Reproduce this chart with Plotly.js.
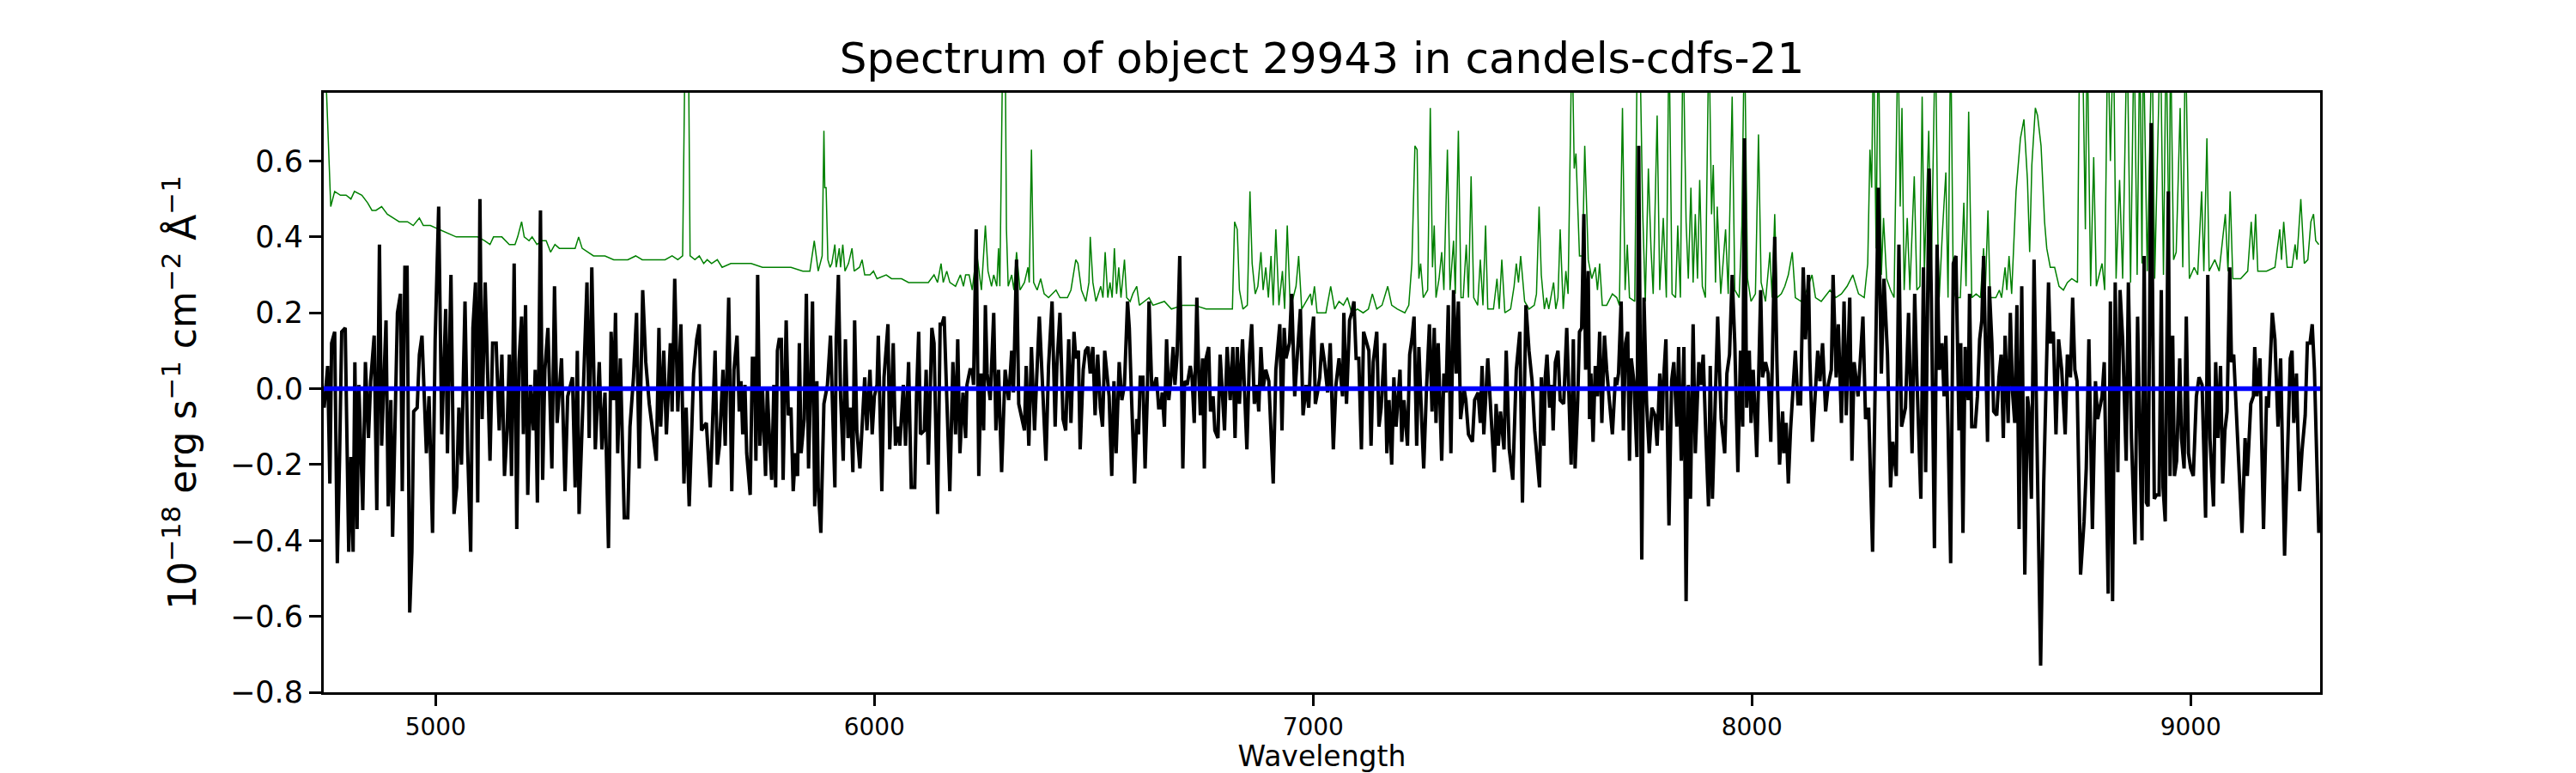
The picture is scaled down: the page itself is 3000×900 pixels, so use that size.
<!DOCTYPE html>
<html>
<head>
<meta charset="utf-8">
<script src="https://cdn.plot.ly/plotly-3.0.1.min.js"></script>
<style>body{margin:0;background:#fff}</style>
</head>
<body>
<div id="chart" style="width:3000px;height:900px"></div>
<script>
// [wavelength (A), flux]
var objectFlux = [
[4746,-0.05],[4754,0.06],[4759,-0.25],[4763,0.12],[4770,0.15],[4776,-0.46],[4781,-0.19],[4786,0.15],[4794,0.16],[4798,-0.16],
[4802,-0.43],[4807,-0.18],[4812,-0.43],[4816,0.07],[4821,-0.37],[4825,0.01],[4834,-0.32],[4840,0.07],[4847,-0.13],[4852,0.02],
[4860,0.14],[4866,-0.32],[4872,0.38],[4877,-0.15],[4887,0.18],[4892,-0.31],[4898,-0.03],[4902,-0.39],[4909,-0.03],[4913,0.20],
[4920,0.25],[4924,-0.27],[4930,0.32],[4935,0.32],[4941,-0.59],[4946,-0.43],[4950,-0.06],[4958,-0.05],[4963,0.09],[4969,0.14],
[4979,-0.17],[4985,-0.02],[4993,-0.38],[4999,0.13],[5007,0.48],[5014,-0.12],[5023,0.21],[5027,-0.17],[5035,0.30],[5042,-0.33],
[5048,-0.26],[5053,-0.05],[5059,-0.20],[5067,0.23],[5073,-0.16],[5080,-0.43],[5085,0.16],[5091,0.28],[5096,-0.30],[5101,0.50],
[5106,-0.08],[5113,0.28],[5124,-0.19],[5130,0.12],[5138,0.12],[5145,-0.11],[5151,0.09],[5157,-0.23],[5163,-0.11],[5168,0.09],
[5173,-0.23],[5179,0.33],[5185,-0.37],[5190,0.07],[5196,0.19],[5200,-0.12],[5205,0.22],[5210,-0.28],[5216,0.01],[5223,-0.11],
[5227,0.05],[5232,-0.30],[5239,0.47],[5244,-0.24],[5249,0.05],[5256,0.16],[5265,-0.21],[5271,0.27],[5277,-0.09],[5287,0.08],
[5295,-0.27],[5301,-0.02],[5312,0.03],[5318,-0.26],[5323,0.10],[5327,-0.33],[5333,-0.13],[5339,0.07],[5345,0.28],[5350,-0.13],
[5356,0.32],[5364,-0.16],[5373,0.07],[5379,-0.16],[5386,-0.01],[5394,-0.42],[5400,0.15],[5406,-0.03],[5410,0.20],[5415,-0.17],
[5421,0.08],[5430,-0.34],[5438,-0.34],[5443,-0.10],[5451,0.03],[5458,0.20],[5464,-0.21],[5472,0.26],[5479,0.07],[5487,-0.04],
[5494,-0.11],[5503,-0.19],[5509,0.16],[5513,-0.10],[5520,0.10],[5526,-0.12],[5535,0.12],[5539,-0.06],[5545,0.29],[5552,-0.06],
[5559,0.17],[5566,-0.25],[5571,-0.05],[5578,-0.31],[5582,-0.17],[5588,0.04],[5595,0.13],[5601,0.17],[5606,-0.11],[5617,-0.09],
[5626,-0.26],[5637,0.10],[5642,-0.20],[5647,-0.15],[5655,0.05],[5660,-0.15],[5668,0.24],[5675,-0.27],
[5680,0.05],[5687,0.14],[5692,-0.06],[5696,0.02],[5700,-0.12],[5705,0.01],[5709,-0.17],[5717,-0.28],[5722,0.08],[5727,0.08],
[5730,-0.19],[5734,0.30],[5739,-0.15],[5745,0.00],[5752,-0.23],[5756,0.00],[5762,-0.16],[5766,-0.24],[5771,0.01],[5775,-0.26],
[5779,0.10],[5783,0.13],[5788,0.13],[5792,-0.24],[5799,0.18],[5804,-0.07],[5810,-0.05],[5815,-0.27],[5820,-0.17],[5825,-0.23],
[5829,0.12],[5833,-0.17],[5840,-0.08],[5845,0.25],[5850,-0.21],[5855,0.01],[5859,0.23],[5864,-0.31],[5869,0.02],[5872,-0.26],
[5878,-0.38],[5885,-0.04],[5893,0.01],[5900,0.14],[5910,-0.26],[5913,0.13],[5918,0.30],[5923,-0.02],[5929,-0.19],[5934,0.13],
[5940,-0.13],[5946,-0.05],[5951,-0.22],[5955,0.18],[5960,-0.11],[5967,-0.21],[5973,-0.07],[5978,0.03],[5983,-0.11],[5990,0.05],
[5995,-0.12],[6000,-0.02],[6006,0.01],[6009,0.14],[6017,-0.27],[6022,0.03],[6031,0.17],[6035,-0.16],[6043,0.12],[6048,-0.15],
[6054,-0.10],[6058,-0.15],[6066,0.01],[6071,-0.15],[6078,0.07],[6084,-0.26],[6092,-0.26],[6096,-0.02],[6101,0.15],[6105,-0.12],
[6114,-0.11],[6118,0.05],[6123,-0.20],[6131,0.16],[6136,0.12],[6144,-0.33],[6150,0.17],[6154,0.17],[6159,0.19],[6166,-0.10],
[6172,-0.27],[6179,0.07],[6185,-0.12],[6190,0.13],[6195,-0.17],[6202,-0.01],[6208,-0.13],[6211,0.01],[6218,0.05],[6223,0.05],
[6226,0.01],[6232,0.42],[6238,-0.23],[6243,0.04],[6249,-0.11],[6253,0.22],[6257,0.04],[6264,-0.03],[6272,0.20],[6277,-0.11],
[6283,0.05],[6290,-0.22],[6298,0.05],[6306,-0.03],[6313,0.10],[6317,-0.01],[6324,0.34],[6329,-0.04],[6333,-0.06],[6342,-0.11],
[6346,0.06],[6352,-0.15],[6358,0.11],[6365,-0.11],[6370,0.03],[6376,0.19],[6384,-0.01],[6391,-0.19],[6397,0.06],[6405,0.23],
[6412,-0.10],[6416,0.06],[6423,0.20],[6430,-0.08],[6436,-0.11],[6443,0.13],[6448,-0.09],[6455,0.15],[6459,0.08],[6465,0.10],
[6469,-0.16],[6476,0.05],[6481,0.10],[6487,0.11],[6492,0.04],[6498,0.11],[6503,-0.07],[6509,0.09],[6515,-0.05],[6520,-0.10],
[6525,0.10],[6530,0.03],[6535,-0.02],[6541,-0.23],[6546,0.02],[6551,-0.17],[6558,0.07],[6564,-0.03],[6570,0.01],[6577,0.23],
[6581,0.16],[6586,-0.02],[6593,-0.25],
[6598,-0.08],[6602,-0.12],[6606,0.03],[6612,0.03],[6617,-0.21],[6622,-0.02],[6626,0.23],[6632,0.01],[6638,0.01],[6643,0.03],
[6648,-0.05],[6653,-0.05],[6656,-0.01],[6661,-0.10],[6666,0.13],[6671,-0.03],[6676,0.03],[6681,0.11],[6685,0.01],[6690,0.09],
[6696,0.35],[6700,0.01],[6703,-0.21],[6707,0.02],[6713,0.01],[6720,0.06],[6724,0.03],[6729,-0.09],[6735,0.24],[6739,0.05],
[6743,-0.07],[6748,0.08],[6752,-0.21],[6756,0.08],[6762,0.11],[6766,-0.06],[6772,-0.02],[6776,-0.11],[6783,-0.13],[6788,0.09],
[6798,-0.11],[6804,0.11],[6811,-0.03],[6817,0.11],[6822,-0.13],[6827,0.11],[6832,-0.04],[6839,0.13],[6844,-0.04],[6849,-0.16],
[6855,0.09],[6860,0.17],[6866,-0.04],[6872,0.01],[6876,-0.06],[6881,0.11],[6886,0.00],[6892,0.05],[6899,0.02],[6909,-0.25],
[6915,0.05],[6924,0.17],[6929,-0.11],[6934,0.16],[6938,0.08],[6946,0.12],[6951,0.25],[6958,-0.02],[6964,0.09],[6971,0.21],
[6977,-0.07],[6984,0.01],[6990,-0.05],[6996,0.13],[7001,0.19],[7005,-0.04],[7010,-0.01],[7015,0.03],[7020,0.12],[7026,0.07],
[7033,-0.01],[7039,0.12],[7046,-0.16],[7052,0.01],[7059,0.08],[7067,-0.02],[7070,0.20],[7076,-0.04],[7083,0.18],[7088,0.20],
[7093,0.23],[7098,0.08],[7104,0.08],[7110,-0.16],[7115,0.15],[7121,0.12],[7127,0.10],[7132,-0.15],[7137,0.07],[7145,0.15],
[7150,-0.10],[7155,-0.05],[7163,0.12],[7168,-0.17],[7173,-0.03],[7179,-0.20],[7184,0.03],[7189,-0.10],[7198,0.05],[7202,-0.14],
[7207,-0.03],[7215,-0.15],[7220,0.09],[7225,0.13],[7230,0.19],[7236,-0.15],[7241,0.11],[7248,-0.10],[7252,-0.21],[7258,-0.01],
[7265,0.17],[7271,-0.06],[7276,0.16],[7280,-0.09],[7285,0.12],[7293,-0.19],[7298,0.04],[7303,-0.01],[7308,0.22],[7314,-0.17],
[7320,0.26],[7326,0.04],[7331,0.23],[7336,-0.08],[7344,0.00],[7348,-0.03],[7354,-0.12],[7363,-0.14],[7368,-0.03],[7376,-0.01],
[7381,-0.09],[7385,0.06],[7389,-0.12],[7398,0.08],[7404,-0.03],[7413,-0.22],[7417,-0.04],[7422,-0.15],[7427,-0.06],[7435,-0.16],
[7440,0.10],[7447,-0.16],[7455,-0.24],[7463,0.05],[7471,0.15],[7477,-0.30],[7485,0.22],[7492,0.10],[7499,0.02],[7505,-0.11],
[7516,-0.26],[7520,0.03],[7526,-0.15],[7529,0.03],[7533,0.09],[7539,-0.05],[7544,0.01],[7547,-0.11],[7552,0.07],[7558,0.10],
[7563,-0.03],[7571,-0.04],[7578,0.16],[7582,0.01],[7588,-0.20],[7593,0.13],[7597,-0.21],[7603,-0.03],[7607,0.15],[7612,0.16],
[7617,0.46],[7621,0.05],[7627,0.31],[7630,-0.08],[7633,0.04],[7638,-0.14],[7643,0.06],[7648,-0.02],[7653,0.15],[7658,-0.09],
[7664,0.14],[7669,0.05],[7676,-0.05],[7682,-0.12],[7689,0.03],[7692,0.01],[7696,0.04],[7702,0.23],[7707,-0.11],[7712,0.12],
[7717,0.15],[7721,-0.19],[7725,0.08],[7731,0.02],[7738,-0.18],[7742,0.64],[7749,-0.45],[7754,0.24],[7760,-0.04],[7766,-0.17],
[7772,-0.05],[7779,-0.07],[7784,-0.15],[7790,0.04],[7795,-0.11],[7798,0.01],[7804,0.13],[7811,-0.36],[7817,0.02],[7822,0.07],
[7829,-0.10],[7833,0.11],[7839,-0.19],[7845,0.11],[7850,-0.56],[7855,0.01],[7860,-0.29],[7866,0.17],[7871,-0.17],[7879,0.07],
[7884,0.01],[7889,0.09],[7894,-0.09],[7901,-0.31],[7905,0.06],[7910,-0.29],[7922,0.19],[7930,-0.08],[7938,-0.17],[7943,0.04],
[7949,0.09],[7955,0.30],[7961,0.12],[7968,-0.22],[7974,0.10],[7979,-0.10],[7983,0.66],[7988,-0.05],[7994,0.10],[7998,-0.09],
[8003,0.05],[8011,-0.18],[8020,0.26],[8024,0.03],[8031,0.07],[8037,0.04],[8043,-0.14],[8047,0.13],[8052,0.40],[8057,0.07],
[8063,-0.20],[8070,-0.06],[8073,-0.17],[8078,-0.09],[8083,-0.25],[8088,-0.11],[8094,0.01],[8099,0.10],[8105,-0.04],[8111,-0.04],
[8117,0.32],[8122,0.13],[8129,0.30],[8132,0.08],[8138,-0.14],[8145,0.01],[8150,0.10],[8155,0.02],[8161,0.12],[8168,-0.06],
[8174,0.01],[8181,0.05],[8185,0.30],[8192,0.03],[8197,0.17],[8204,-0.09],[8210,0.23],[8215,-0.07],[8223,0.24],[8228,-0.19],
[8233,0.07],[8242,-0.02],[8246,0.05],[8253,0.19],[8259,-0.08],[8266,-0.05],[8275,-0.43],[8282,0.11],[8288,0.53],[8295,0.04],
[8301,0.29],[8309,0.09],[8316,-0.26],[8321,-0.14],[8329,-0.23],[8335,0.38],[8341,-0.10],[8350,-0.05],[8357,0.20],[8365,-0.17],
[8371,0.25],[8376,0.03],[8385,-0.29],[8391,0.32],[8396,-0.22],[8404,0.58],[8409,0.24],[8416,-0.42],[8422,0.38],[8427,0.05],
[8433,0.12],[8438,-0.02],[8442,0.14],[8447,-0.10],[8453,-0.46],[8459,0.33],[8465,0.35],[8472,-0.11],[8476,0.12],[8481,-0.38],
[8486,0.11],[8493,-0.03],[8496,0.25],[8501,-0.10],[8509,-0.10],[8514,-0.02],[8519,0.13],[8524,0.18],[8528,0.35],[8537,-0.14],
[8541,0.27],[8547,0.12],[8551,-0.06],[8558,-0.07],[8563,0.03],[8568,0.09],[8573,-0.13],[8577,0.14],[8584,-0.09],[8589,0.20],
[8594,-0.01],[8599,-0.09],[8604,0.22],[8609,-0.37],[8615,0.27],[8622,-0.49],[8628,-0.02],[8631,-0.05],[8637,-0.29],[8643,0.34],
[8649,-0.04],[8658,-0.73],[8665,-0.25],[8671,0.02],[8676,0.28],[8680,0.12],[8687,0.15],[8693,-0.12],[8699,0.13],[8706,0.05],
[8714,-0.12],[8719,0.09],[8726,0.03],[8731,0.24],[8736,0.05],[8741,0.02],[8749,-0.49],[8757,-0.35],[8762,-0.21],[8768,0.13],
[8776,-0.37],[8783,0.02],[8788,-0.08],[8798,-0.02],[8803,0.07],[8812,-0.54],[8817,0.23],[8822,-0.56],[8828,0.28],[8834,-0.22],
[8839,0.26],[8845,0.13],[8853,-0.19],[8858,0.28],[8865,-0.13],[8873,-0.41],[8879,0.19],[8889,-0.40],[8894,0.35],[8899,-0.30],
[8903,-0.31],[8910,0.70],[8917,-0.29],[8922,-0.28],[8928,-0.28],[8933,0.26],[8937,-0.26],[8942,-0.35],[8949,0.52],[8953,-0.23],
[8959,0.14],[8963,-0.23],[8968,-0.19],[8975,0.08],[8979,-0.13],[8985,-0.21],[8990,0.19],[8995,-0.17],[9000,-0.21],[9006,-0.23],
[9013,-0.02],[9019,0.03],[9026,0.01],[9034,-0.34],[9039,0.30],[9044,-0.13],[9052,-0.31],[9057,0.07],[9062,-0.13],[9068,0.06],
[9073,-0.25],[9078,-0.11],[9083,-0.06],[9089,0.32],[9093,0.07],[9098,0.09],[9107,-0.14],[9117,-0.38],[9124,-0.13],[9129,-0.23],
[9137,-0.04],[9143,-0.02],[9146,0.11],[9151,-0.02],[9158,0.08],[9166,-0.37],[9173,-0.02],[9177,-0.05],[9186,0.20],[9192,0.13],
[9199,-0.10],[9205,0.08],[9214,-0.44],[9221,-0.17],[9227,0.08],[9231,0.10],[9235,-0.09],[9241,0.04],[9248,-0.27],[9254,-0.16],
[9261,-0.07],[9266,0.12],[9272,0.12],[9277,0.17],[9282,0.05],[9287,-0.17],[9292,-0.38]
];

// [wavelength (A), noise] for the green sky / error spectrum
var skyNoise = [
[4746,0.95],[4752,0.75],[4761,0.48],[4770,0.52],[4783,0.51],[4796,0.51],[4807,0.50],[4815,0.52],[4832,0.51],[4845,0.49],
[4855,0.47],[4864,0.47],[4877,0.48],[4890,0.46],[4904,0.45],[4917,0.44],[4936,0.44],[4949,0.43],[4963,0.45],[4972,0.43],
[4988,0.43],[5008,0.42],[5027,0.41],[5047,0.40],[5073,0.40],[5096,0.40],[5112,0.39],[5124,0.38],[5132,0.40],[5151,0.40],
[5168,0.38],[5181,0.38],[5187,0.40],[5196,0.44],[5202,0.40],[5213,0.39],[5220,0.40],[5231,0.38],[5241,0.39],[5252,0.39],
[5262,0.36],[5272,0.38],[5282,0.37],[5301,0.37],[5318,0.37],[5326,0.40],[5334,0.37],[5360,0.35],[5386,0.35],[5406,0.34],
[5438,0.34],[5456,0.35],[5471,0.34],[5497,0.34],[5523,0.34],[5539,0.35],[5552,0.34],[5563,0.35],[5569,0.95],[5576,0.95],
[5580,0.35],[5591,0.34],[5601,0.35],[5611,0.33],[5619,0.34],[5629,0.33],[5642,0.34],[5653,0.32],[5673,0.33],
[5693,0.33],[5719,0.33],[5745,0.32],[5765,0.32],[5784,0.32],[5810,0.32],[5837,0.31],[5853,0.31],[5863,0.39],[5872,0.31],
[5881,0.35],[5885,0.68],[5887,0.53],[5890,0.53],[5894,0.34],[5899,0.32],[5903,0.33],[5910,0.38],[5913,0.32],[5920,0.37],
[5923,0.32],[5928,0.38],[5933,0.31],[5941,0.33],[5949,0.37],[5954,0.31],[5966,0.32],[5972,0.34],[5978,0.30],[5990,0.30],
[5998,0.31],[6006,0.29],[6027,0.30],[6039,0.29],[6062,0.29],[6078,0.28],[6104,0.28],[6123,0.28],[6136,0.30],[6144,0.28],
[6152,0.33],[6157,0.28],[6165,0.31],[6172,0.28],[6185,0.27],[6196,0.30],[6203,0.27],[6208,0.30],[6216,0.30],[6223,0.26],
[6233,0.36],[6244,0.26],[6253,0.43],[6259,0.31],[6267,0.27],[6272,0.30],[6279,0.27],[6283,0.37],[6286,0.27],[6293,0.95],
[6298,0.95],[6301,0.42],[6305,0.27],[6313,0.30],[6318,0.26],[6324,0.36],[6332,0.26],[6342,0.28],[6350,0.32],[6353,0.28],
[6358,0.63],[6363,0.28],[6371,0.26],[6379,0.29],[6387,0.25],[6397,0.24],[6414,0.26],[6423,0.24],[6440,0.24],[6448,0.26],
[6459,0.34],[6464,0.33],[6472,0.26],[6482,0.23],[6489,0.28],[6492,0.40],[6498,0.28],[6505,0.23],[6516,0.27],[6521,0.24],
[6526,0.36],[6532,0.24],[6537,0.28],[6542,0.24],[6547,0.37],[6552,0.25],[6557,0.32],[6562,0.24],[6570,0.34],[6575,0.24],
[6583,0.23],[6589,0.25],[6598,0.27],[6604,0.22],[6615,0.23],[6626,0.24],[6635,0.22],[6661,0.23],[6677,0.21],[6703,0.22],
[6729,0.22],[6756,0.21],[6782,0.21],[6816,0.21],[6821,0.44],[6827,0.42],[6832,0.26],[6840,0.21],[6850,0.22],[6856,0.52],
[6861,0.33],[6868,0.25],[6874,0.27],[6881,0.36],[6886,0.26],[6892,0.32],[6898,0.24],[6904,0.35],[6909,0.22],[6915,0.42],
[6922,0.22],[6930,0.31],[6935,0.21],[6941,0.43],[6948,0.21],[6961,0.27],[6967,0.35],[6974,0.21],[6994,0.25],[6997,0.22],
[7003,0.27],[7009,0.20],[7029,0.20],[7040,0.27],[7049,0.21],[7059,0.23],[7069,0.22],[7078,0.24],[7088,0.20],[7101,0.21],
[7114,0.20],[7126,0.21],[7135,0.25],[7145,0.21],[7157,0.22],[7170,0.27],[7179,0.22],[7192,0.21],[7209,0.20],[7218,0.22],
[7225,0.33],[7232,0.64],[7237,0.63],[7241,0.29],[7245,0.33],[7251,0.24],[7261,0.26],[7267,0.74],[7272,0.32],[7276,0.43],
[7280,0.24],[7287,0.29],[7293,0.36],[7298,0.26],[7306,0.63],[7312,0.26],[7320,0.39],[7324,0.25],[7331,0.68],[7337,0.24],
[7342,0.24],[7349,0.38],[7354,0.24],[7360,0.56],[7366,0.24],[7375,0.22],[7381,0.34],[7387,0.22],[7393,0.43],[7398,0.21],
[7411,0.21],[7419,0.29],[7424,0.21],[7430,0.34],[7437,0.20],[7450,0.21],[7458,0.27],[7463,0.33],[7468,0.28],[7473,0.35],
[7482,0.23],[7492,0.21],[7504,0.22],
[7509,0.25],[7515,0.48],[7520,0.30],[7527,0.21],[7532,0.24],[7537,0.21],[7548,0.28],[7553,0.21],[7558,0.24],[7563,0.42],
[7570,0.21],[7576,0.31],[7581,0.25],[7590,0.95],[7595,0.58],[7599,0.62],[7607,0.35],[7614,0.35],[7619,0.64],[7627,0.34],
[7635,0.29],[7643,0.32],[7648,0.26],[7653,0.33],[7659,0.22],[7669,0.22],[7682,0.25],[7692,0.24],[7698,0.22],[7705,0.74],
[7711,0.26],[7716,0.38],[7721,0.24],[7733,0.23],[7739,0.95],[7744,0.95],[7751,0.47],[7757,0.23],[7764,0.58],[7770,0.37],
[7775,0.25],[7784,0.72],[7790,0.26],[7798,0.45],[7805,0.24],[7811,0.95],[7818,0.25],[7826,0.24],[7831,0.43],[7837,0.24],
[7843,0.95],[7850,0.44],[7855,0.29],[7861,0.53],[7866,0.28],[7871,0.46],[7876,0.29],[7881,0.55],[7887,0.27],[7894,0.24],
[7902,0.95],[7908,0.46],[7912,0.59],[7917,0.28],[7921,0.48],[7929,0.25],[7940,0.42],[7946,0.25],[7955,0.77],[7961,0.26],
[7971,0.24],[7977,0.43],[7983,0.95],[7990,0.29],[7998,0.23],[8008,0.25],[8015,0.67],[8021,0.28],[8031,0.23],[8041,0.36],
[8046,0.24],[8052,0.46],[8057,0.24],[8067,0.25],[8075,0.27],[8083,0.30],[8092,0.36],[8099,0.24],[8112,0.23],[8125,0.26],
[8137,0.30],[8145,0.24],[8158,0.23],[8178,0.26],[8191,0.24],[8204,0.25],[8217,0.27],[8230,0.30],[8243,0.25],[8256,0.24],
[8264,0.33],[8269,0.63],[8273,0.53],[8277,0.95],[8283,0.37],[8288,0.95],[8295,0.30],[8300,0.45],[8307,0.29],[8316,0.26],
[8324,0.24],[8333,0.95],[8338,0.48],[8342,0.74],[8347,0.26],[8354,0.45],[8360,0.26],[8370,0.56],[8376,0.26],[8383,0.27],
[8388,0.77],[8393,0.31],[8403,0.68],[8409,0.31],[8418,0.95],[8424,0.38],
[8427,0.24],[8434,0.41],[8442,0.57],[8447,0.24],[8453,0.95],[8459,0.26],[8465,0.24],[8475,0.24],[8483,0.49],[8488,0.27],
[8494,0.73],[8501,0.24],[8511,0.25],[8521,0.24],[8528,0.37],[8532,0.26],[8538,0.47],[8543,0.24],[8556,0.24],[8564,0.26],
[8569,0.24],[8577,0.32],[8581,0.26],[8586,0.35],[8592,0.25],[8602,0.52],[8612,0.66],[8620,0.71],[8628,0.55],[8633,0.36],
[8638,0.59],[8646,0.74],[8651,0.72],[8659,0.64],[8667,0.44],[8672,0.37],[8680,0.32],[8690,0.32],[8700,0.27],[8710,0.26],
[8719,0.28],[8729,0.29],[8742,0.28],[8747,0.95],[8753,0.95],[8760,0.42],[8764,0.95],[8772,0.27],[8779,0.61],[8785,0.27],
[8798,0.33],[8804,0.26],[8811,0.95],[8817,0.60],[8824,0.95],[8830,0.29],[8838,0.55],[8845,0.29],[8855,0.95],[8863,0.28],
[8871,0.95],[8878,0.30],[8884,0.95],[8889,0.33],[8892,0.95],[8901,0.31],[8912,0.95],[8918,0.29],[8931,0.95],[8938,0.30],
[8944,0.95],[8951,0.33],[8954,0.95],[8961,0.34],[8967,0.36],[8976,0.74],[8982,0.32],[8988,0.95],[8997,0.29],[9008,0.32],
[9016,0.30],[9025,0.52],[9030,0.31],[9037,0.66],[9042,0.31],[9055,0.34],[9065,0.31],[9079,0.46],[9085,0.31],[9090,0.52],
[9096,0.29],[9114,0.29],[9130,0.31],[9138,0.44],[9143,0.34],[9148,0.46],[9153,0.31],[9173,0.31],[9192,0.32],[9203,0.42],
[9207,0.34],[9212,0.44],[9220,0.32],[9231,0.32],[9238,0.38],[9242,0.34],[9251,0.50],[9259,0.33],[9267,0.34],[9274,0.44],
[9280,0.46],[9285,0.39],[9292,0.38]
];

var waveRange = [4745, 9295];
var fluxRange = [-0.8, 0.78];
var xTicks = [5000, 6000, 7000, 8000, 9000];
var yTicks = [-0.8, -0.6, -0.4, -0.2, 0.0, 0.2, 0.4, 0.6];
var yTickText = ["\u22120.8", "\u22120.6", "\u22120.4", "\u22120.2", "0.0", "0.2", "0.4", "0.6"];

var titleText = "Spectrum of object 29943 in candels-cdfs-21";
var yLabel = "10<sup>\u221218</sup> erg s<sup>\u22121</sup> cm<sup>\u22122</sup> \u00c5<sup>\u22121</sup>";

function column(rows, i) {
	return rows.map(function(r){ return r[i]; });
}

var font = "DejaVu Sans, sans-serif";

var traces = [
	{
		x: column(skyNoise, 0),
		y: column(skyNoise, 1),
		type: "scatter",
		mode: "lines",
		line: {color: "#008000", width: 1.5},
		hoverinfo: "skip"
	},
	{
		x: column(objectFlux, 0),
		y: column(objectFlux, 1),
		type: "scatter",
		mode: "lines",
		line: {color: "#000000", width: 4},
		hoverinfo: "skip"
	},
	{
		x: waveRange,
		y: [0, 0],
		type: "scatter",
		mode: "lines",
		line: {color: "#0000ff", width: 5.5},
		hoverinfo: "skip"
	}
];

var axisCommon = {
	showgrid: false,
	zeroline: false,
	showline: true,
	mirror: true,
	linecolor: "#000000",
	linewidth: 3,
	ticks: "outside",
	tickcolor: "#000000",
	tickwidth: 3,
	automargin: false
};

var layout = {
	width: 3000,
	height: 900,
	margin: {l: 377, r: 298, t: 108, b: 94, pad: 0},
	paper_bgcolor: "#ffffff",
	plot_bgcolor: "#ffffff",
	showlegend: false,
	font: {family: font, color: "#000000"},
	title: {
		text: titleText,
		font: {family: font, size: 50, color: "#000000"},
		x: 0.5, xref: "paper", xanchor: "center",
		y: 1 - 67 / 900, yref: "container", yanchor: "middle"
	},
	xaxis: Object.assign({}, axisCommon, {
		range: waveRange,
		tickvals: xTicks,
		ticktext: xTicks.map(String),
		ticklen: 13,
		tickfont: {family: font, size: 28, color: "#000000"},
		title: {text: "Wavelength", font: {family: font, size: 33, color: "#000000"}, standoff: 0}
	}),
	yaxis: Object.assign({}, axisCommon, {
		range: fluxRange,
		tickvals: yTicks,
		ticktext: yTickText,
		ticklen: 14,
		tickfont: {family: font, size: 35, color: "#000000"},
		title: {text: yLabel, font: {family: font, size: 44, color: "#000000"}, standoff: 26}
	})
};

Plotly.newPlot("chart", traces, layout, {staticPlot: true, displayModeBar: false});
</script>
</body>
</html>
